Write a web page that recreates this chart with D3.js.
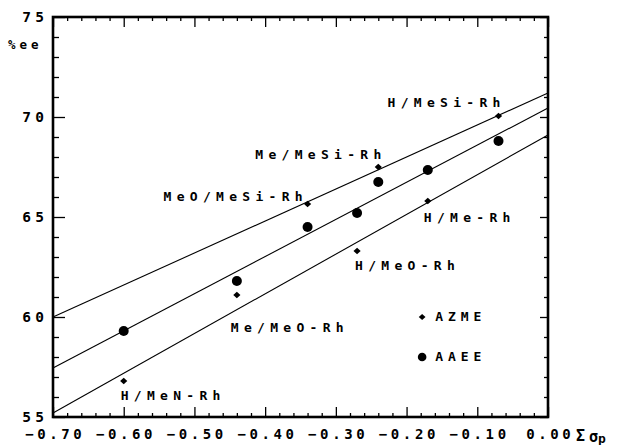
<!DOCTYPE html>
<html>
<head>
<meta charset="utf-8">
<script src="https://cdn.jsdelivr.net/npm/d3@7"></script>
<style>
  body { margin: 0; background: #fff; }
  svg text { font-family: "DejaVu Sans Mono", monospace; font-weight: bold; fill: #000; }
</style>
</head>
<body>
<div id="chart"></div>
<script>
// substituent pairs, sum of sigma_p, %ee for both catalysts
const substituents = ["H/MeN-Rh", "Me/MeO-Rh", "MeO/MeSi-Rh", "H/MeO-Rh", "Me/MeSi-Rh", "H/Me-Rh", "H/MeSi-Rh"];
const sigmaP = [-0.60, -0.44, -0.34, -0.27, -0.24, -0.17, -0.07];
const azmeEE = [56.8, 61.1, 65.65, 63.3, 67.5, 65.8, 70.05];
const aaeeEE = [59.3, 61.8, 64.5, 65.2, 66.75, 67.35, 68.8];

// three straight lines, %ee at sigma = -0.70 and 0.00
const lineEnds = [-0.70, 0.00];
const upperLine = [60.0, 71.2];
const middleLine = [57.45, 70.45];
const lowerLine = [55.2, 69.1];

const xTicks = [-0.70, -0.60, -0.50, -0.40, -0.30, -0.20, -0.10, 0.00];
const yTicks = [55, 60, 65, 70, 75];
const seriesNames = ["AZME", "AAEE"];

// label placement relative to the AZME point (layout only)
const labelNudge = [[-3, 15], [-6, 33], [-144, -7], [-2, 15], [-123, -12], [-4, 17], [-111, -13]];

const width = 622, height = 445;
const margin = { top: 17, right: 74, bottom: 28, left: 53 };
const innerW = width - margin.left - margin.right;
const innerH = height - margin.top - margin.bottom;
const ls = 4.4; // letter spacing for the plotter-like lettering

const svg = d3.select("#chart").append("svg")
  .attr("width", width)
  .attr("height", height);

svg.append("rect").attr("width", width).attr("height", height).attr("fill", "#fff");

const xScale = d3.scaleLinear().domain([-0.70, 0.00]).range([0, innerW]);
const yScale = d3.scaleLinear().domain([55, 75]).range([innerH, 0]);

const chart = svg.append("g").attr("transform", `translate(${margin.left},${margin.top})`);

const xMinor = d3.range(-70, 1, 2).map(v => v / 100).filter(v => !xTicks.some(t => Math.abs(t - v) < 1e-9));
const yMinor = d3.range(55, 76, 1).filter(v => !yTicks.includes(v));

// minor ticks on all four sides
chart.append("g").attr("transform", `translate(0,${innerH})`)
  .call(d3.axisBottom(xScale).tickValues(xMinor).tickSize(-4).tickFormat(""));
chart.append("g")
  .call(d3.axisTop(xScale).tickValues(xMinor).tickSize(-4).tickFormat(""));
chart.append("g")
  .call(d3.axisLeft(yScale).tickValues(yMinor).tickSize(-6).tickFormat(""));
chart.append("g").attr("transform", `translate(${innerW},0)`)
  .call(d3.axisRight(yScale).tickValues(yMinor).tickSize(-4).tickFormat(""));

// major ticks + labels
const fmt = d3.format(".2f");
const xAxis = chart.append("g").attr("transform", `translate(0,${innerH})`)
  .call(d3.axisBottom(xScale).tickValues(xTicks).tickSize(-10).tickPadding(12)
    .tickFormat(d => fmt(d).replace("-", "\u2212")));
xAxis.selectAll("text")
  .attr("dx", 1.8)
  .style("font-size", "14px")
  .style("letter-spacing", "3.6px");

chart.append("g")
  .call(d3.axisTop(xScale).tickValues(xTicks).tickSize(-10).tickFormat(""));

const yAxis = chart.append("g")
  .call(d3.axisLeft(yScale).tickValues(yTicks).tickSize(-12).tickPadding(9 - ls));
yAxis.selectAll("text")
  .style("font-size", "14.5px")
  .style("letter-spacing", `${ls}px`);

chart.append("g").attr("transform", `translate(${innerW},0)`)
  .call(d3.axisRight(yScale).tickValues(yTicks).tickSize(-8).tickFormat(""));

chart.selectAll(".domain").remove();
chart.selectAll(".tick line").attr("stroke", "#000").attr("stroke-width", 1.3);

// frame
chart.append("rect")
  .attr("width", innerW).attr("height", innerH)
  .attr("fill", "none").attr("stroke", "#000").attr("stroke-width", 2.6);

// y axis unit label
svg.append("text")
  .attr("x", 8).attr("y", 49)
  .style("font-size", "12.5px")
  .style("letter-spacing", "4px")
  .text("%ee");

// x axis title: sum sigma_p
const xTitle = svg.append("text").attr("y", 441).style("font-size", "15px");
xTitle.append("tspan").attr("x", 576).text("\u03A3");
xTitle.append("tspan").attr("x", 589).attr("dy", 1).text("\u03C3");
xTitle.append("tspan").attr("x", 598).attr("dy", 1).style("font-size", "13px").text("p");

// fitted lines
const lineGen = d3.line().x(d => xScale(d[0])).y(d => yScale(d[1]));
[upperLine, middleLine, lowerLine].forEach(vals => {
  chart.append("path")
    .datum(lineEnds.map((x, i) => [x, vals[i]]))
    .attr("d", lineGen)
    .attr("fill", "none")
    .attr("stroke", "#000")
    .attr("stroke-width", 1.1);
});

const diamond = (cx, cy, w, h) => `M${cx},${cy - h}L${cx + w},${cy}L${cx},${cy + h}L${cx - w},${cy}Z`;

const points = substituents.map((name, i) => ({
  name, s: sigmaP[i], azme: azmeEE[i], aaee: aaeeEE[i], nudge: labelNudge[i]
}));

// AAEE circles
chart.selectAll("circle.aaee")
  .data(points)
  .join("circle")
    .attr("class", "aaee")
    .attr("cx", d => xScale(d.s))
    .attr("cy", d => yScale(d.aaee))
    .attr("r", 5)
    .attr("fill", "#000");

// AZME diamonds
chart.selectAll("path.azme")
  .data(points)
  .join("path")
    .attr("class", "azme")
    .attr("d", d => diamond(xScale(d.s), yScale(d.azme), 3.6, 3.2))
    .attr("fill", "#000");

// point labels
chart.selectAll("text.pt-label")
  .data(points)
  .join("text")
    .attr("class", "pt-label")
    .attr("x", d => xScale(d.s) + d.nudge[0])
    .attr("y", d => yScale(d.azme) + d.nudge[1])
    .attr("dominant-baseline", "middle")
    .style("font-size", "13px")
    .style("letter-spacing", "5.3px")
    .text(d => d.name);

// legend
const legendX = xScale(-0.178);
const legend = chart.append("g");
legend.append("path").attr("d", diamond(legendX, yScale(60), 3.4, 3)).attr("fill", "#000");
legend.append("circle").attr("cx", legendX).attr("cy", yScale(58)).attr("r", 4.3).attr("fill", "#000");
legend.selectAll("text")
  .data(seriesNames)
  .join("text")
    .attr("x", legendX + 13)
    .attr("y", (d, i) => yScale(i === 0 ? 60 : 58))
    .attr("dominant-baseline", "middle")
    .style("font-size", "13px")
    .style("letter-spacing", "5px")
    .text(d => d);
</script>
</body>
</html>
